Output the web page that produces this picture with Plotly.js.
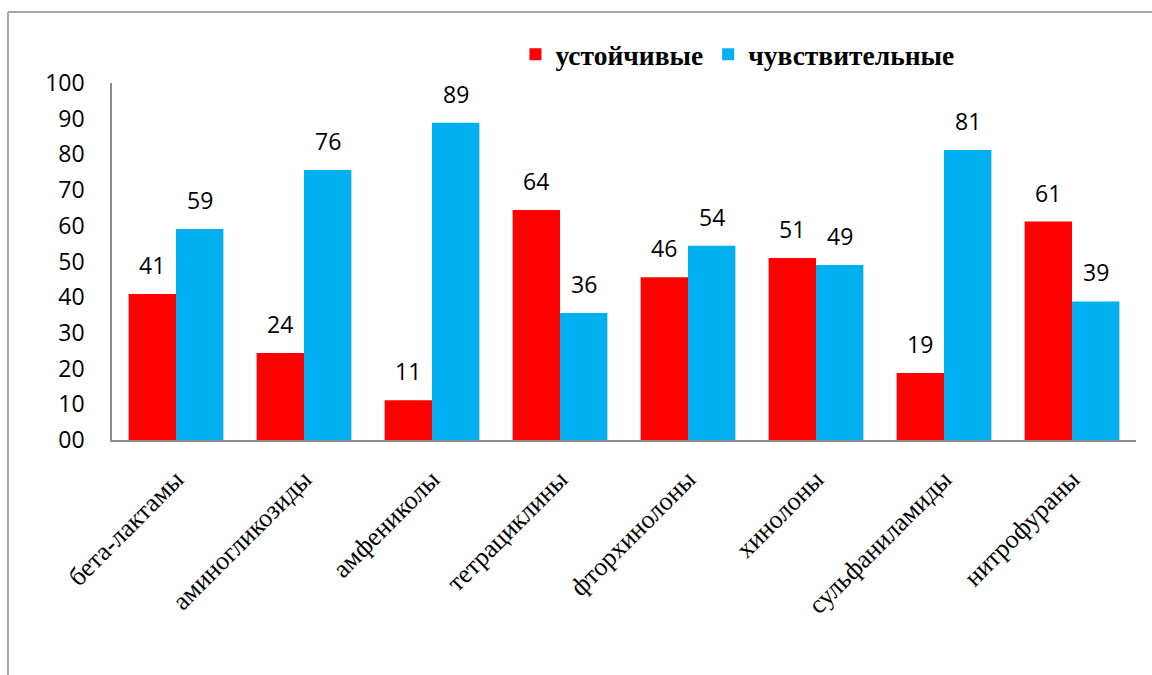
<!DOCTYPE html>
<html>
<head>
<meta charset="utf-8">
<script src="https://cdn.plot.ly/plotly-3.0.1.min.js"></script>
<style>
  html, body { margin: 0; padding: 0; background: #ffffff; }
  #chart { width: 1152px; height: 675px; }
</style>
</head>
<body>
<div id="chart"></div>
<script>
const categories = ['бета-лактамы', 'аминогликозиды', 'амфениколы', 'тетрациклины',
                    'фторхинолоны', 'хинолоны', 'сульфаниламиды', 'нитрофураны'];
const resistant = [40.9, 24.4, 11.1, 64.4, 45.6, 51.0, 18.8, 61.2];
const sensitive = [59.1, 75.6, 88.9, 35.6, 54.4, 49.0, 81.2, 38.8];
const seriesNames = ['устойчивые', 'чувствительные'];
const yTicks = [0, 10, 20, 30, 40, 50, 60, 70, 80, 90, 100];

const sansFont = 'Open Sans, Liberation Sans, sans-serif';
const serifFont = 'Liberation Serif, Times New Roman, serif';

const traces = [
  { type: 'bar', name: seriesNames[0], x: categories, y: resistant,
    marker: { color: '#FF0000' }, hoverinfo: 'x+y' },
  { type: 'bar', name: seriesNames[1], x: categories, y: sensitive,
    marker: { color: '#00B0F0' }, hoverinfo: 'x+y' }
];

const annotations = [];
[[resistant, -23.7], [sensitive, 23.7]].forEach(([vals, dx]) => {
  vals.forEach((v, i) => {
    annotations.push({
      x: categories[i], y: v, xref: 'x', yref: 'y',
      text: String(Math.round(v)), showarrow: false,
      xanchor: 'center', yanchor: 'bottom', xshift: dx, yshift: 11,
      font: { family: sansFont, size: 23, color: '#000000' }
    });
  });
});

const frameColor = '#a6a6a6';
const layout = {
  width: 1152, height: 675,
  margin: { l: 112, r: 16, t: 83, b: 235 },
  paper_bgcolor: '#ffffff', plot_bgcolor: '#ffffff',
  barmode: 'group', bargap: 0.26, bargroupgap: 0,
  showlegend: true,
  legend: {
    orientation: 'h', x: 0.394, xanchor: 'left', y: 1.08, yanchor: 'middle',
    font: { family: serifFont, size: 27.5, color: '#000000', weight: 'bold' },
    bgcolor: 'rgba(0,0,0,0)', itemclick: false, itemdoubleclick: false,
    tracegroupgap: 0
  },
  xaxis: {
    type: 'category', tickangle: -45,
    showline: true, linecolor: '#8c8c8c', linewidth: 1.5,
    showgrid: false, zeroline: false,
    ticks: 'outside', ticklen: 12, tickcolor: 'rgba(0,0,0,0)',
    tickfont: { family: serifFont, size: 26, color: '#000000' },
    fixedrange: true
  },
  yaxis: {
    range: [0, 100], tickvals: yTicks, tickformat: '02d',
    showline: true, linecolor: '#8c8c8c', linewidth: 1.5,
    showgrid: false, zeroline: false,
    ticks: 'outside', ticklen: 21, tickcolor: 'rgba(0,0,0,0)',
    tickfont: { family: sansFont, size: 23, color: '#000000' },
    fixedrange: true
  },
  annotations: annotations,
  shapes: [
    { type: 'line', xref: 'paper', yref: 'paper', x0: -0.1016, x1: 1.02, y0: 1.1989, y1: 1.1989,
      line: { color: frameColor, width: 2 } },
    { type: 'line', xref: 'paper', yref: 'paper', x0: -0.1016, x1: -0.1016, y0: 1.1989, y1: -0.66,
      line: { color: frameColor, width: 2 } }
  ]
};

Plotly.newPlot('chart', traces, layout, { displayModeBar: false, staticPlot: false });
</script>
</body>
</html>
